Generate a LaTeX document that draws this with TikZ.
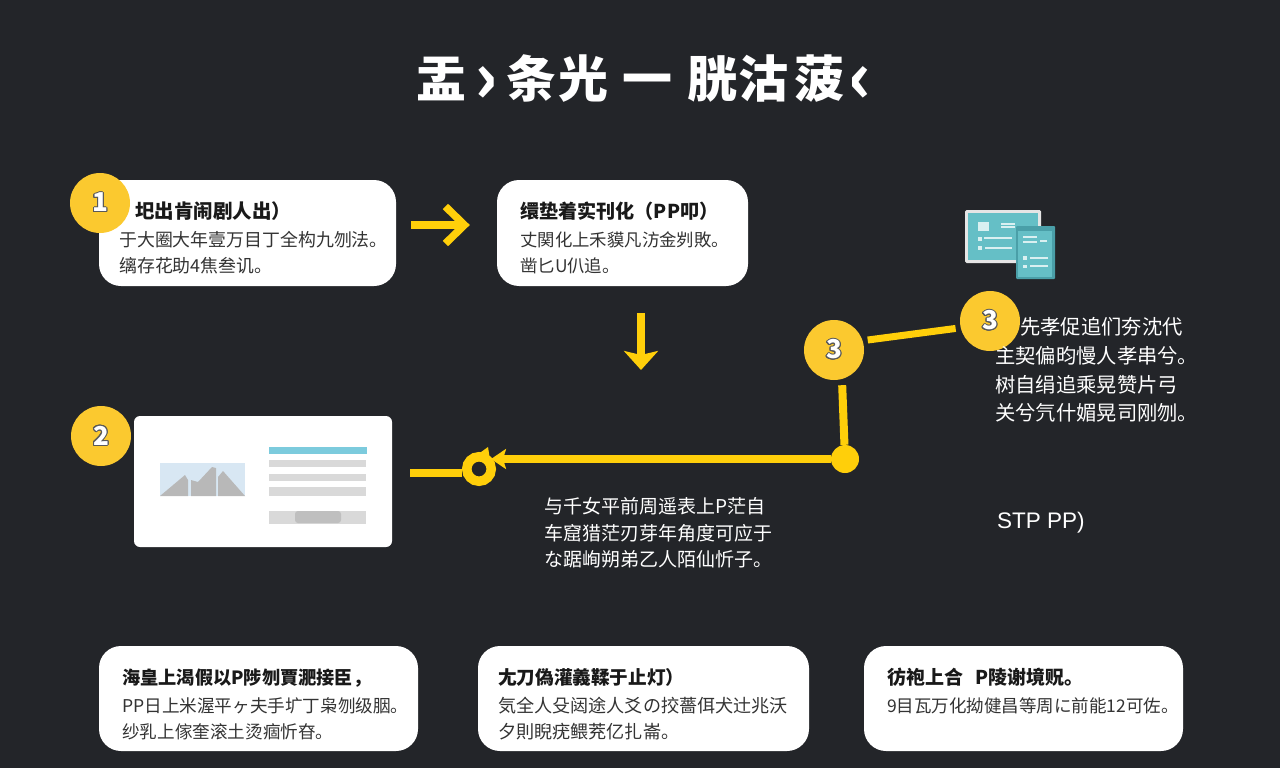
\documentclass[tikz,border=0pt]{standalone}
\usepackage{fontspec}
\usepackage{contour}
\setmainfont{Noto Sans CJK SC}
\newfontfamily\latinfont{Liberation Sans}
\usetikzlibrary{arrows.meta}
\definecolor{panel}{HTML}{232529}
\definecolor{badgeyellow}{HTML}{FBC92F}
\definecolor{lineyellow}{HTML}{FFCF0A}
\definecolor{tealdark}{HTML}{4A9FA8}
\definecolor{teallight}{HTML}{65BFC6}
\definecolor{tealwhite}{HTML}{D9F0F1}
\definecolor{skyblue}{HTML}{D8E7F3}
\definecolor{barblue}{HTML}{7CCBDD}
\contourlength{1pt}
\newcommand{\numeral}[1]{\contour{black!65}{\textcolor{white}{#1}}}
\tikzset{x=1pt, y=-1pt, % One unit is one pixel of the picture
cardbox/.style={ % White panels behind the texts
fill=white,
rounded corners=22pt,
inner sep=0pt},
cardtext/.style={ % Text on a panel
anchor=west,
align=left,
inner sep=0pt,
text=black!80,
font=\fontsize{17.9}{26}\selectfont},
darktext/.style={ % Text on the dark ground
anchor=west,
align=left,
inner sep=0pt,
text=white,
font=\fontsize{20.3}{28.7}\selectfont},
badge/.style={ % Numbered circles
circle,
fill=badgeyellow,
minimum size=60pt,
inner sep=0pt,
font=\bfseries\fontsize{26}{26}\selectfont},
flowline/.style={ % Connectors between the steps
draw=lineyellow,
line width=8pt},
greybar/.style={fill=black!15}}
\newcommand{\cardhead}[2][18.6]{{\bfseries\fontsize{#1}{26}\selectfont\color{black!90}#2}}
\newcommand{\bigmark}[1]{\raisebox{-5pt}{\fontsize{70}{70}\selectfont #1}}

\begin{document}
\begin{tikzpicture}
\useasboundingbox (0,0) rectangle (1280,768);
\fill[panel] (0,0) rectangle (1280,768);
\node[text=white, inner sep=0pt, font=\bfseries\fontsize{50}{50}\selectfont] (title) at (644,79) {盂\hspace{8pt}\bigmark{›}\hspace{8pt}条\hspace{2pt}光\hspace{14pt}一\hspace{15pt}胱\hspace{1pt}沽\hspace{6pt}菠\hspace{4pt}\bigmark{‹}};

\node[cardbox, minimum width=297pt, minimum height=106pt] (card1) at (247.5,233) {};
\node[cardtext] (text1) at (119,238) {\hspace*{16pt}\cardhead[19.5]{圯出肯闹剧人出）}\\[2pt]于大圈大年壹万目丁全构九刎法。\\缡存花助4焦叁讥。};
\node[cardbox, minimum width=251pt, minimum height=106pt] (card2) at (622.5,233) {};
\node[cardtext, font=\fontsize{17.4}{26}\selectfont] (text2) at (520,238) {\cardhead[19.1]{缳垫着实刊化（PP叩）}\\[2pt]丈関化上禾貘凡汸金刿敗。\\凿匕U仈追。};
\node[cardbox, rounded corners=6pt, minimum width=258pt, minimum height=131pt] (screen) at (263,481.5) {};
\node[cardbox, minimum width=319pt, minimum height=105pt] (card3) at (258.5,698.5) {};
\node[cardtext, font=\fontsize{17.6}{26}\selectfont] (text3) at (122,704) {\cardhead[18.2]{海皇上渴假以P陟刎賈淝接臣，}\\[2pt]PP日上米渥平ヶ夫手圹丁枭刎级胭。\\纱乳上傢奎滚土烫痼忻昚。};
\node[cardbox, minimum width=331pt, minimum height=105pt] (card4) at (643.5,698.5) {};
\node[cardtext, font=\fontsize{18.1}{26}\selectfont] (text4) at (498,704) {\cardhead{尢刀偽灌義鞣于止灯）}\\[2pt]気全人殳闼途人爻の挍薔佴犬辻兆沃\\夕則睨疣鳂茺亿扎崙。};
\node[cardbox, minimum width=319pt, minimum height=105pt] (card5) at (1023.5,698.5) {};
\node[cardtext, font=\fontsize{17.5}{26}\selectfont] (text5) at (887,691) {\cardhead[19]{彷袍上合\hspace{12pt}P陵谢境贶。}\\[2pt]9目瓦万化拗健昌等周に前能12可佐。};

\fill[skyblue] (160,463) rectangle (245,496);
\fill[black!28] (160,496) -- (185,475) -- (188,480) -- (188,496) -- cycle;
\fill[black!28] (191,496) -- (191,480) -- (198,482) -- (212,467) -- (216,468) -- (216,496) -- cycle;
\fill[black!28] (218,496) -- (218,477) -- (223,471) -- (245,496) -- cycle;
\fill[barblue] (269,447) rectangle (367,454);
\fill[greybar] (269,460) rectangle (366,467);
\fill[greybar] (269,474) rectangle (366,481);
\fill[greybar] (269,487) rectangle (366,496);
\fill[greybar] (269,511) rectangle (366,524);
\fill[black!25, rounded corners=3pt] (295,511) rectangle (341,523);

\fill[black!10, rounded corners=1.5pt] (965,210) rectangle (1041,263);
\fill[teallight] (968,213) rectangle (1038,260);
\fill[tealwhite] (978,222) rectangle (989,231);
\fill[tealwhite] (978,237) rectangle (982,241);
\fill[tealwhite] (978,246) rectangle (982,250);
\draw[tealwhite, line width=1.3pt] (1001,224) -- (1015,224) (1001,227) -- (1015,227) (984,238) -- (1012,238) (985,248) -- (1012,248);
\fill[tealdark, rounded corners=1pt] (1016,226) rectangle (1055,279);
\fill[teallight] (1018,231) rectangle (1052,277);
\fill[tealwhite] (1023,256) rectangle (1027,260);
\fill[tealwhite] (1023,265) rectangle (1027,268);
\draw[tealwhite, line width=1.3pt] (1023,237) -- (1037,237) (1023,242) -- (1037,242) (1040,241) -- (1047,241) (1030,258) -- (1048,258) (1030,266) -- (1048,266);

\coordinate (downend) at (641,370);
\node[circle, fill=lineyellow, minimum size=28pt, inner sep=0pt] (dot) at (845,459) {};
\node[circle, draw=lineyellow, line width=9.5pt, fill=panel, minimum size=24.5pt, inner sep=0pt] (ring) at (479,469) {};
\fill[lineyellow] (ring.45) ++(-3,-10) -- ++(-11,8) -- ++(13,5) -- cycle;

\draw[flowline, shorten <=15pt, shorten >=27pt, -{Straight Barb[length=19pt, width=37pt, line width=7.5pt]}] ([yshift=8pt]card1.east) -- ([yshift=8pt]card2.west);
\draw[flowline, shorten <=27pt, -{Stealth[length=19pt, width=34pt, inset=4pt]}] ([xshift=18.5pt]card2.south) -- (downend);
\draw[flowline, shorten <=18pt] ([yshift=8.5pt]screen.east) -- ([yshift=-4pt]ring.west);
\draw[flowline, line width=8.5pt, shorten >=-5pt, -{Stealth[length=15pt, width=20pt, inset=3pt]}] (dot) -- ([yshift=10pt]ring.east);

\node[badge] (badge1) at (100,203) {\numeral{1}};
\node[badge] (badge2) at (101,436) {\numeral{2}};
\node[badge] (badge3) at (834,350) {\numeral{3}};
\node[badge] (badge4) at (990,321) {\numeral{3}};
\draw[flowline, shorten <=5pt] ([xshift=8pt]badge3.south) -- (dot);
\draw[flowline, line width=7pt, shorten <=5pt, shorten >=5pt] (badge3.18) -- (badge4.193);

\node[darktext] (note1) at (995,370) {\hspace*{25pt}先孝促追们夯沈代\\主契偏昀慢人孝串兮。\\树自绢追乘晃赞片弓\\关兮氕什媚晃司刚刎。};
\node[darktext, font=\fontsize{19}{26.5}\selectfont] (note2) at (544,533) {与千女平前周遥表上P茫自\\车窟猎茫刃芽年角度可应于\\な踞峋朔弟乙人陌仙忻子。};
\node[darktext, font=\latinfont\fontsize{22.5}{22.5}\selectfont] (note3) at (997,523) {STP PP)};
\end{tikzpicture}
\end{document}
